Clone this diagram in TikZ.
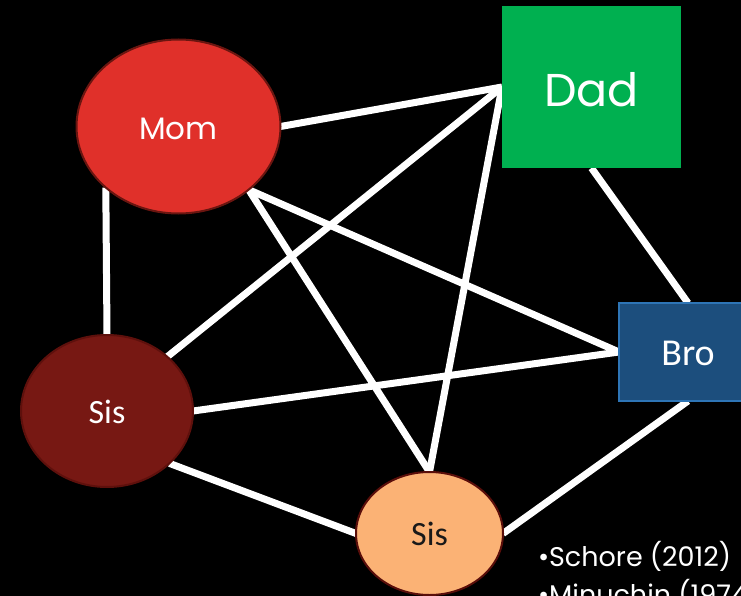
\documentclass[tikz,border=0pt]{standalone}
\usepackage{fontspec}
\setmainfont{Poppins}
\newfontfamily\carl{Carlito}
\usetikzlibrary{shapes.geometric}
\pgfdeclarelayer{bg}
\pgfdeclarelayer{edges}
\pgfsetlayers{bg,edges,main}
\definecolor{momred}{HTML}{E0302A}
\definecolor{momedge}{HTML}{6A1510}
\definecolor{dadgreen}{HTML}{00B050}
\definecolor{brofill}{HTML}{1C4E7D}
\definecolor{broedge}{HTML}{2E75B6}
\definecolor{sisdark}{HTML}{771813}
\definecolor{sisdarkedge}{HTML}{5E100C}
\definecolor{sisorange}{HTML}{FBB275}
\definecolor{sisoredge}{HTML}{5A0E0A}
\tikzset{
  oval/.style={ellipse, inner sep=0pt, outer sep=0pt, line width=2pt},
  box/.style={rectangle, inner sep=0pt, outer sep=0pt},
  link/.style={draw=white, line width=7pt},
  lbl/.style={inner sep=0pt, outer sep=0pt}
}
\begin{document}
\begin{tikzpicture}[x=1pt,y=-1pt]
\clip (0,0) rectangle (741,596);
\begin{pgfonlayer}{bg}
\fill[black] (0,0) rectangle (741,596);
\end{pgfonlayer}
% nodes
\node[oval, fill=momred, draw=momedge, minimum width=204pt, minimum height=174pt] (mom) at (178.5,126.5) {};
\node[lbl, text=white, font=\fontsize{31}{31}\selectfont] (momt) at (178.5,129) {Mom};
\node[box, fill=dadgreen, minimum width=179pt, minimum height=162pt] (dad) at (591.5,87) {};
\node[lbl, text=white, font=\fontsize{46}{46}\selectfont] (dadt) at (591.5,90) {Dad};
\node[box, fill=brofill, draw=broedge, line width=2pt, minimum width=138pt, minimum height=98pt] (bro) at (688,352) {};
\node[lbl, text=white, font=\carl\fontsize{38}{38}\selectfont] (brot) at (688,353) {Bro};
\node[oval, fill=sisdark, draw=sisdarkedge, minimum width=172pt, minimum height=152pt] (sisa) at (107,411) {};
\node[lbl, text=white, font=\carl\fontsize{34}{34}\selectfont] (sisat) at (107,412) {Sis};
\node[oval, fill=sisorange, draw=sisoredge, minimum width=147pt, minimum height=123pt] (sisb) at (429.5,533.5) {};
\node[lbl, text=black!90, font=\carl\fontsize{34}{34}\selectfont] (sisbt) at (429.5,534) {Sis};
\node[lbl, anchor=base west, text=white, font=\fontsize{27}{27}\selectfont] (ref1) at (538,566) {•Schore (2012)};
\node[lbl, anchor=base west, text=white, font=\fontsize{27}{27}\selectfont] (ref2) at (538,604) {•Minuchin (1974)};
% connectors
\begin{pgfonlayer}{edges}
\draw[link] (mom.0) -- (dad.west);
\draw[link] (mom.220) -- (sisa.north);
\draw[link] (mom.-42) -- (bro.west);
\draw[link] (mom.-42) -- (sisb.north);
\draw[link] (dad.west) -- (sisa.42);
\draw[link] (dad.west) -- (sisb.north);
\draw[link] (dad.south) -- (bro.north);
\draw[link] (sisa.east) -- (bro.west);
\draw[link] (sisa.-40) -- (sisb.west);
\draw[link] (sisb.east) -- (bro.south);
\end{pgfonlayer}
\end{tikzpicture}
\end{document}
